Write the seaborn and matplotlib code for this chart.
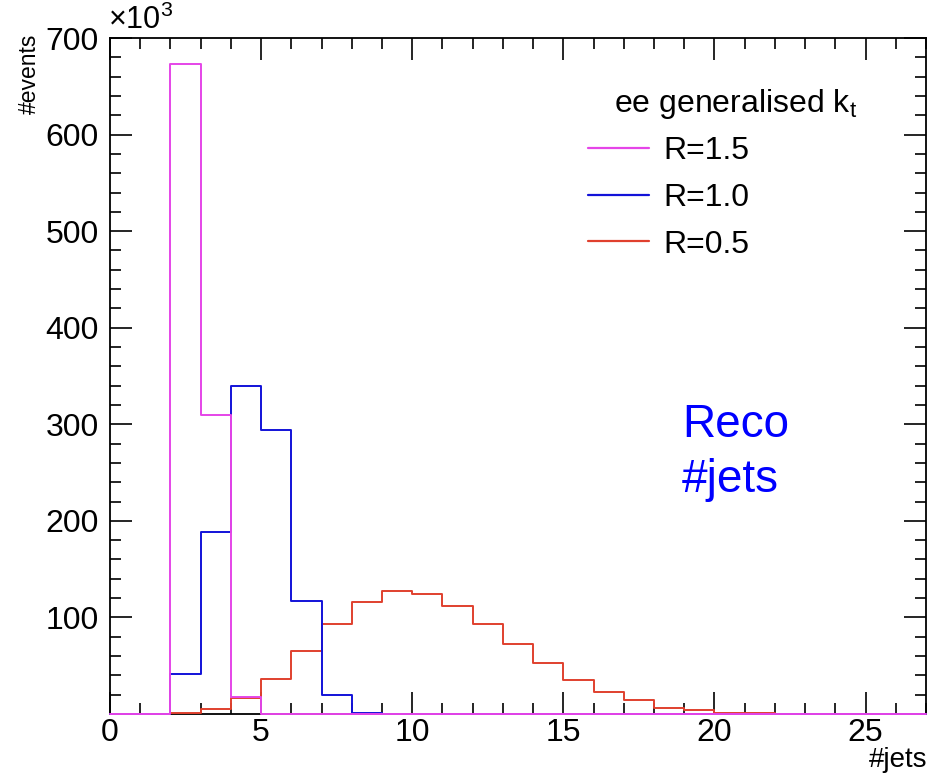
import numpy as np
import pandas as pd
import matplotlib
matplotlib.use("Agg")
import matplotlib.pyplot as plt
from matplotlib.ticker import MultipleLocator, FuncFormatter
from matplotlib.lines import Line2D
import seaborn as sns

sns.set_style("ticks")
plt.rcParams['font.family'] = ['Liberation Sans', 'DejaVu Sans']
plt.rcParams['mathtext.fontset'] = 'custom'
plt.rcParams['mathtext.rm'] = 'Liberation Sans'
plt.rcParams['mathtext.it'] = 'Liberation Sans'
plt.rcParams['text.color'] = 'black'
plt.rcParams['axes.labelcolor'] = 'black'
plt.rcParams['xtick.color'] = 'black'
plt.rcParams['ytick.color'] = 'black'

# bin edges 0..27, width 1 ; values in thousands of events
bin_edges = list(range(0, 28))
bin_centers = [e + 0.5 for e in range(0, 27)]

r15 = [0, 0, 673, 310, 18, 0, 0, 0, 0, 0, 0, 0, 0, 0, 0, 0, 0, 0, 0, 0, 0, 0, 0, 0, 0, 0, 0]
r10 = [0, 0, 41, 188, 340, 294, 117, 20, 1.4, 0, 0, 0, 0, 0, 0, 0, 0, 0, 0, 0, 0, 0, 0, 0, 0, 0, 0]
r05 = [0, 0, 1, 5, 17, 36.5, 65, 93, 116, 127.5, 124.5, 112, 93, 72, 52.5, 35, 23, 14, 6.6, 4, 1.4, 1.2, 0, 0, 0, 0, 0]

labels = ["R=1.5", "R=1.0", "R=0.5"]
colors = {"R=1.5": "#e545e8", "R=1.0": "#1212d8", "R=0.5": "#e0402e"}

W, H = 932, 773
fig = plt.figure(figsize=(W / 100, H / 100), dpi=100)
ax = fig.add_axes([110 / W, 1 - 714 / H, (926 - 110) / W, (714 - 38) / H])

# draw in order: red, blue, magenta (magenta on top)
for lab, vals in [("R=0.5", r05), ("R=1.0", r10), ("R=1.5", r15)]:
    sns.histplot(x=bin_centers, weights=vals, bins=bin_edges, element="step",
                 fill=False, color=colors[lab], linewidth=1.4, ax=ax)
for art in list(ax.lines) + list(ax.collections) + list(ax.patches):
    art.set_clip_on(False)
    art.set_zorder(3)

ax.set_xlim(0, 27)
ax.set_ylim(0, 700)
ax.xaxis.set_major_locator(MultipleLocator(5))
ax.xaxis.set_minor_locator(MultipleLocator(1))
ax.yaxis.set_major_locator(MultipleLocator(100))
ax.yaxis.set_minor_locator(MultipleLocator(20))
ax.yaxis.set_major_formatter(FuncFormatter(lambda v, p: "" if v == 0 else f"{int(v)}"))
ax.tick_params(which="both", direction="in", top=True, right=True, labelsize=23, width=1.2, colors="black")
ax.tick_params(which="major", length=16)
ax.tick_params(which="minor", length=8)
ax.tick_params(axis="x", pad=3)
ax.tick_params(axis="y", pad=8)
for s in ax.spines.values():
    s.set_linewidth(1.3)
    s.set_color("black")
    s.set_zorder(2.5)

ax.set_xlabel("")
ax.set_ylabel("")
fig.text(29 / W, 1 - 34 / H, "#events", rotation=90, ha="center", va="top", fontsize=16.5)
fig.text(927 / W, 1 - 767 / H, "#jets", ha="right", va="baseline", fontsize=20)
fig.text(108 / W, 1 - 36 / H, r"$\times$10$^{3}$", ha="left", va="bottom", fontsize=22)

fig.text(682 / W, 1 - 437 / H, "Reco", ha="left", va="baseline", fontsize=33, color="#0000ff")
fig.text(682 / W, 1 - 492 / H, "#jets", ha="left", va="baseline", fontsize=33, color="#0000ff")

fig.text(614 / W, 1 - 112 / H, r"ee generalised k$_{t}$", ha="left", va="baseline", fontsize=23)

handles = [Line2D([0], [0], color=colors[l], lw=1.6) for l in labels]
leg = fig.legend(handles, labels, frameon=False, fontsize=23, loc="center left",
                 bbox_to_anchor=(588 / W, 1 - 198 / H), borderpad=0, borderaxespad=0,
                 handlelength=1.9, handletextpad=0.45, labelspacing=0.52)

fig.savefig("out.png", dpi=100)
